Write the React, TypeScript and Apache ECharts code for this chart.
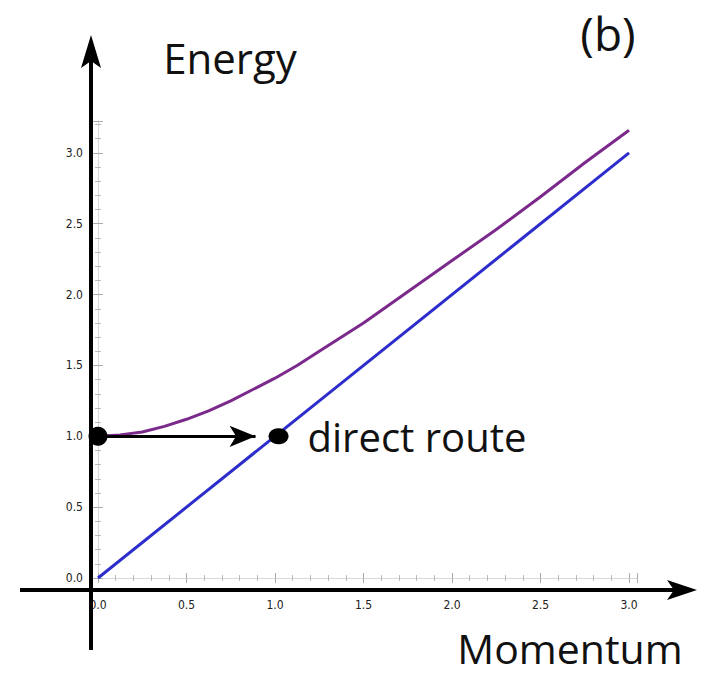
import React, { useEffect, useRef } from "react";
import * as echarts from "echarts";

// Momentum values (x) and energies
const momentum = [0, 0.125, 0.25, 0.375, 0.5, 0.625, 0.75, 0.875, 1.0, 1.125, 1.25, 1.5, 1.75, 2.0, 2.25, 2.5, 2.75, 3.0];
const massiveEnergy = [1.0, 1.01, 1.03, 1.07, 1.12, 1.18, 1.25, 1.33, 1.41, 1.5, 1.6, 1.8, 2.02, 2.24, 2.46, 2.69, 2.93, 3.16];
const masslessMomentum = [0, 3.0];
const masslessEnergy = [0.0, 3.0];
const startPoint = [0, 1];
const endPoint = [1.02, 1];
const arrowEnd = [0.89, 1];
const xTickLabels = ["0.0", "0.5", "1.0", "1.5", "2.0", "2.5", "3.0"];
const yTickLabels = ["0.0", "0.5", "1.0", "1.5", "2.0", "2.5", "3.0"];

const fmt = (labels: string[]) => (v: number) => {
  const s = v.toFixed(1);
  return Math.abs(v * 2 - Math.round(v * 2)) < 1e-6 && labels.includes(s) ? s : "";
};

export default function App() {
  const ref = useRef<HTMLDivElement>(null);
  useEffect(() => {
    if (!ref.current) return;
    const chart = echarts.init(ref.current, null, { renderer: "svg" });
    const frameLine = { show: true, lineStyle: { color: "#d8d8d8", width: 1 } };
    const tick = { show: true, inside: true, length: 5, lineStyle: { color: "#aaa" } };
    const minor = { show: true, splitNumber: 5, length: 3, lineStyle: { color: "#bbb" } };
    const labelFont = "'DejaVu Sans Condensed', 'Liberation Sans Narrow', sans-serif";
    chart.setOption({
      animation: false,
      backgroundColor: "#fff",
      grid: { left: 98, right: 66, top: 121, bottom: 97, containLabel: false },
      xAxis: [
        {
          type: "value", min: 0, max: 3.045, interval: 0.5, position: "bottom",
          axisLine: frameLine, axisTick: tick, minorTick: minor, splitLine: { show: false },
          axisLabel: { formatter: fmt(xTickLabels), margin: 21, fontSize: 12, color: "#222", fontFamily: labelFont },
        },
        {
          type: "value", min: 0, max: 3.045, interval: 0.5, position: "top",
          axisLine: frameLine, axisTick: tick, minorTick: minor, splitLine: { show: false },
          axisLabel: { show: false },
        },
      ],
      yAxis: [
        {
          type: "value", min: 0, max: 3.225, interval: 0.5, position: "left",
          axisLine: frameLine, axisTick: tick, minorTick: minor, splitLine: { show: false },
          axisLabel: { formatter: fmt(yTickLabels), margin: 15, fontSize: 12, color: "#222", fontFamily: labelFont },
        },
        {
          type: "value", min: 0, max: 3.225, interval: 0.5, position: "right",
          axisLine: frameLine, axisTick: tick, minorTick: minor, splitLine: { show: false },
          axisLabel: { show: false },
        },
      ],
      series: [
        {
          type: "line", name: "massless", showSymbol: false, symbol: "none",
          data: masslessMomentum.map((p, i) => [p, masslessEnergy[i]]),
          lineStyle: { color: "#2d2dcc", width: 3 }, z: 3,
        },
        {
          type: "line", name: "massive", showSymbol: false, symbol: "none", smooth: false,
          data: momentum.map((p, i) => [p, massiveEnergy[i]]),
          lineStyle: { color: "#7b2a8c", width: 3, join: "round" }, z: 3,
          markLine: {
            silent: true,
            symbol: ["none", "arrow"],
            symbolSize: [16, 26],
            label: { show: false },
            lineStyle: { color: "#000", width: 3, type: "solid" },
            data: [[{ coord: startPoint }, { coord: arrowEnd }]],
            z: 5,
          },
        },
        {
          type: "scatter", name: "start", data: [startPoint],
          symbolSize: 19, itemStyle: { color: "#000", opacity: 1 }, z: 6,
        },
        {
          type: "scatter", name: "direct", data: [endPoint],
          symbolSize: [20, 16], itemStyle: { color: "#000", opacity: 1 }, z: 6,
          label: {
            show: true, position: "right", distance: 19, formatter: "direct route",
            fontSize: 40, color: "#111", opacity: 1, fontFamily: "'Open Sans', sans-serif",
          },
        },
      ],
      graphic: [
        { type: "line", shape: { x1: 91, y1: 60, x2: 91, y2: 650 }, style: { stroke: "#000", lineWidth: 4 }, z: 10 },
        { type: "polygon", shape: { points: [[91, 35], [101, 68], [91, 61], [81, 68]] }, style: { fill: "#000" }, z: 10 },
        { type: "line", shape: { x1: 20, y1: 590, x2: 675, y2: 590 }, style: { stroke: "#000", lineWidth: 4 }, z: 10 },
        { type: "polygon", shape: { points: [[697, 590], [667, 580], [674, 590], [667, 600]] }, style: { fill: "#000" }, z: 10 },
        {
          type: "text", x: 230, y: 57,
          style: { text: "Energy", fontSize: 42, fill: "#111", fontFamily: "'Open Sans', sans-serif", align: "center", verticalAlign: "middle" },
        },
        {
          type: "text", x: 570, y: 648,
          style: { text: "Momentum", fontSize: 41, fill: "#111", fontFamily: "'Open Sans', sans-serif", align: "center", verticalAlign: "middle" },
        },
        {
          type: "text", x: 608, y: 33,
          style: { text: "(b)", fontSize: 46, fill: "#111", fontFamily: "'Open Sans', sans-serif", align: "center", verticalAlign: "middle" },
        },
      ],
    });
    return () => chart.dispose();
  }, []);
  return <div ref={ref} style={{ position: "absolute", left: 0, top: 0, width: 703, height: 675 }} />;
}
